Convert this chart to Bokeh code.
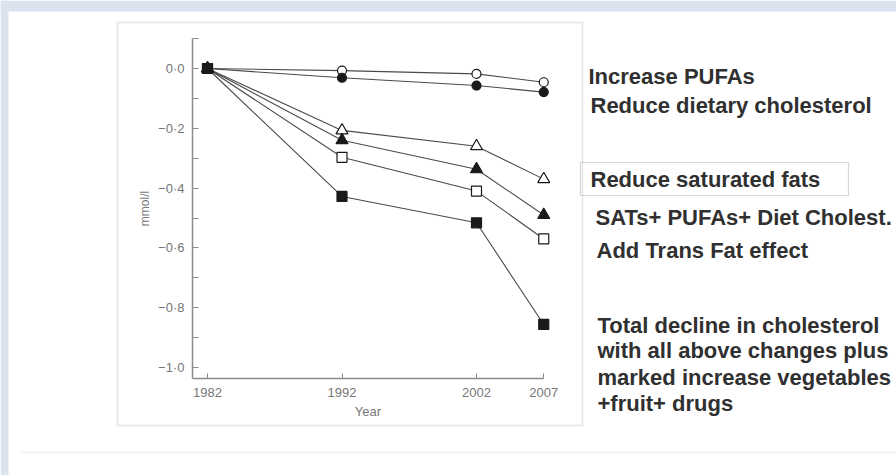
from bokeh.plotting import figure
from bokeh.models import (Range1d, FixedTicker, Label, BoxAnnotation,
                          CustomJSTickFormatter, LinearAxis)
from bokeh.embed import file_html
from bokeh.resources import INLINE

# ---------------- data ----------------
years = [1982, 1992, 2002, 2007]
increase_pufas = [0.0, -0.007, -0.018, -0.046]          # open circle
reduce_dietary_chol = [0.0, -0.031, -0.057, -0.079]     # filled circle
reduce_sat_fats = [0.0, -0.207, -0.26, -0.37]           # open triangle
sats_pufas_chol = [0.0, -0.24, -0.337, -0.49]           # filled triangle
add_trans_fat = [0.0, -0.297, -0.41, -0.57]             # open square
total_decline = [0.0, -0.428, -0.516, -0.856]           # filled square

x_ticks = [1982, 1992, 2002, 2007]
y_major = [0.0, -0.2, -0.4, -0.6, -0.8, -1.0]
y_minor = [0.1, -0.1, -0.3, -0.5, -0.7, -0.9]

note_lines = [
    "Increase PUFAs",
    "Reduce dietary cholesterol",
    "Reduce saturated fats",
    "SATs+ PUFAs+ Diet Cholest.",
    "Add Trans Fat effect",
    "Total decline in cholesterol",
    "with all above changes plus",
    "marked increase vegetables",
    "+fruit+ drugs",
]
y_label = "mmol/l"
x_label = "Year"

# ---------------- layout (pixels on the page) ----------------
W, H = 896, 475
X0_PX, PX_PER_YEAR = 207, 13.45      # where 1982 sits
Y0_PX, PX_PER_UNIT = 68, 299.0       # where 0.0 sits


def dx(px):
    return 1982 + (px - X0_PX) / PX_PER_YEAR


def dy(py):
    return -(py - Y0_PX) / PX_PER_UNIT


p = figure(width=W, height=H, output_backend="svg", toolbar_location=None, title=None,
           x_range=Range1d(dx(0), dx(W)), y_range=Range1d(dy(H), dy(0)),
           x_axis_location=None, y_axis_location=None,
           min_border=0, min_border_left=0, min_border_right=0,
           min_border_top=0, min_border_bottom=0)
p.background_fill_color = "white"
p.border_fill_color = "white"
p.outline_line_color = None
p.grid.visible = False

AX = "#8a8a8a"
LAB = "#777777"

# ---------------- axes ----------------
AXIS_X_PX, AXIS_Y_PX, AXIS_TOP_PX = 192, 378, 38

xa = LinearAxis(fixed_location=dy(AXIS_Y_PX))
xa.ticker = FixedTicker(ticks=x_ticks, minor_ticks=[])
xa.bounds = (dx(AXIS_X_PX), 2007)
xa.axis_line_color = AX
xa.axis_line_width = 1.5
xa.major_tick_line_color = AX
xa.major_tick_in = 5
xa.major_tick_out = 0
xa.minor_tick_line_color = None
xa.major_label_text_font = "Liberation Sans"
xa.major_label_text_font_size = "13px"
xa.major_label_text_color = LAB
xa.major_label_standoff = 9
xa.axis_label = x_label
xa.axis_label_text_font = "Liberation Sans"
xa.axis_label_text_font_style = "normal"
xa.axis_label_text_font_size = "13px"
xa.axis_label_text_color = LAB
xa.axis_label_standoff = 4
p.add_layout(xa, "below")

ya = LinearAxis(fixed_location=dx(AXIS_X_PX))
ya.ticker = FixedTicker(ticks=y_major, minor_ticks=y_minor)
ya.bounds = (dy(AXIS_Y_PX), dy(AXIS_TOP_PX))
ya.formatter = CustomJSTickFormatter(code="""
const s = Math.abs(tick).toFixed(1).replace('.', '\u00b7');
return (tick < -1e-9 ? '\u2212' : '') + s;
""")
ya.axis_line_color = AX
ya.axis_line_width = 1.5
ya.major_tick_line_color = AX
ya.major_tick_in = 6
ya.major_tick_out = 0
ya.minor_tick_line_color = AX
ya.minor_tick_in = 6
ya.minor_tick_out = 0
ya.major_label_text_font = "Liberation Sans"
ya.major_label_text_font_size = "13px"
ya.major_label_text_color = LAB
ya.major_label_standoff = 8
ya.axis_label = y_label
ya.axis_label_text_font = "Liberation Sans"
ya.axis_label_text_font_style = "normal"
ya.axis_label_text_font_size = "12px"
ya.axis_label_text_color = LAB
ya.axis_label_standoff = 3
p.add_layout(ya, "left")

# ---------------- series ----------------
LINE = "#4a4a4a"
MK = "#1a1a1a"
series = [
    (increase_pufas, "circle", 9, "white"),
    (reduce_dietary_chol, "circle", 9, MK),
    (reduce_sat_fats, "triangle", 12, "white"),
    (sats_pufas_chol, "triangle", 12, MK),
    (add_trans_fat, "square", 10, "white"),
    (total_decline, "square", 10, MK),
]
for vals, *_ in series:
    p.line(years, vals, line_color=LINE, line_width=1.1)
for vals, marker, size, fill in series:
    p.scatter(years, vals, marker=marker, size=size, fill_color=fill,
              line_color=MK, line_width=1.2)

# ---------------- frames / decoration ----------------
BLUE = "#dae3ef"
p.add_layout(BoxAnnotation(left=dx(0), right=dx(W), top=dy(0), bottom=dy(11),
                           fill_color=BLUE, fill_alpha=1, line_color=None))
p.add_layout(BoxAnnotation(left=dx(0), right=dx(8), top=dy(0), bottom=dy(H),
                           fill_color=BLUE, fill_alpha=1, line_color=None))
p.add_layout(BoxAnnotation(left=dx(117), right=dx(582), top=dy(22), bottom=dy(425),
                           fill_alpha=0, line_color="#a8a8a8", line_width=1.5))
p.add_layout(BoxAnnotation(left=dx(580), right=dx(848), top=dy(162), bottom=dy(195),
                           fill_alpha=0, line_color="#7c7c7c", line_width=1.2))
p.add_layout(BoxAnnotation(left=dx(20), right=dx(W), top=dy(451), bottom=dy(453),
                           fill_color="#f1f1f1", fill_alpha=1, line_color=None))

# ---------------- notes ----------------
note_pos = [(588, 76), (590, 105), (590, 179), (595, 217), (596, 250),
            (597, 325), (597, 350), (597, 377), (597, 403)]
for txt, (px, py) in zip(note_lines, note_pos):
    p.add_layout(Label(x=dx(px), y=dy(py), text=txt, text_font="Liberation Sans",
                       text_font_style="bold", text_font_size="22px",
                       text_color="#303030", text_baseline="middle", text_align="left"))

open("out.html", "w").write(file_html(p, INLINE))
